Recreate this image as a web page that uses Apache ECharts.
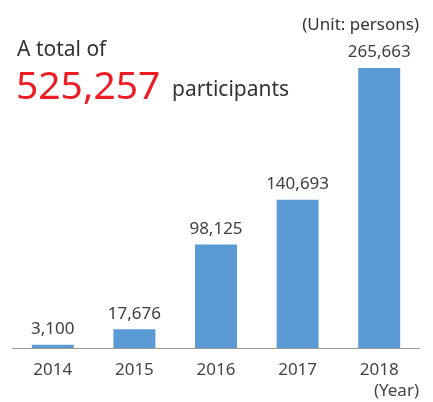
<!DOCTYPE html>
<html><head><meta charset="utf-8">
<script src="https://cdn.jsdelivr.net/npm/echarts@6/dist/echarts.min.js"></script>
<style>html,body{margin:0;padding:0;background:#fff}#c{width:433px;height:402px}</style>
</head><body><div id="c"></div>
<script>
var categories = ['2014', '2015', '2016', '2017', '2018'];
var participants = [3100, 17676, 98125, 140693, 265663];
var totalText = '525,257';

var chart = echarts.init(document.getElementById('c'));
var font = '"Noto Sans", sans-serif';
chart.setOption({
  animation: false,
  grid: {left: 12, right: 13, top: 68, bottom: 54},
  xAxis: {
    type: 'category', data: categories,
    axisLine: {lineStyle: {color: '#9a9a9a', width: 1}},
    axisTick: {show: false},
    axisLabel: {color: '#444', fontSize: 17, fontFamily: font, margin: 14}
  },
  yAxis: {type: 'value', min: 0, max: 265663, show: false, splitLine: {show: false}},
  series: [{
    type: 'bar', data: participants, barWidth: 42,
    itemStyle: {color: '#5b9bd5'},
    label: {show: true, position: 'top', distance: 7, color: '#404040', fontSize: 17, fontFamily: font,
      formatter: function(p){ return p.value.toLocaleString('en-US'); }}
  }],
  graphic: [
    {type: 'text', left: 17, top: 40, style: {text: 'A total of', fill: '#333', font: '21px ' + font}},
    {type: 'text', left: 16, top: 68, style: {text: totalText, fill: '#ee1c25', font: '39px ' + font}},
    {type: 'text', left: 172, top: 80, style: {text: 'participants', fill: '#333', font: '21px ' + font}},
    {type: 'text', right: 14, top: 17, style: {text: '(Unit: persons)', fill: '#333', font: '17px ' + font}},
    {type: 'text', right: 14, top: 383, style: {text: '(Year)', fill: '#444', font: '17px ' + font}}
  ]
});
</script></body></html>
